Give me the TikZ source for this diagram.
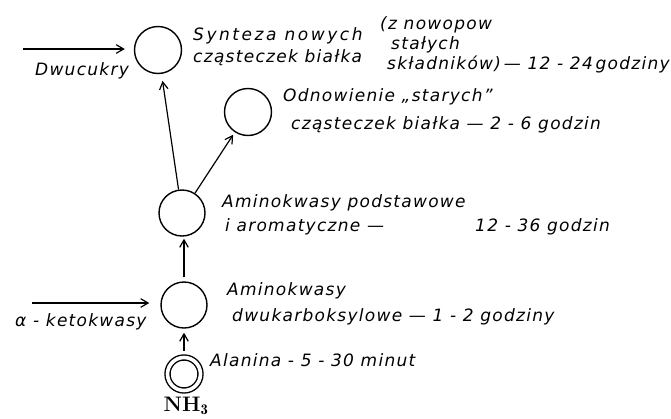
\documentclass[tikz,border=0pt]{standalone}
\usepackage{fontspec}
\newfontfamily\handfont{DejaVu Sans Oblique}[LetterSpace=7.5]
\usetikzlibrary{arrows.meta,positioning}

\begin{document}
\begin{tikzpicture}[x=1pt,y=-1pt,
  pool/.style={circle,draw=black,line width=1.4pt,minimum size=46pt,inner sep=0pt},
  alapool/.style={pool,minimum size=33pt,double,double distance=3.6pt},
  flow/.style={-{Straight Barb[length=2.6mm,width=3mm]},draw=black,line width=1.2pt},
  note/.style={font=\handfont\fontsize{17}{22}\selectfont,anchor=west,inner sep=0pt,align=left},
  chem/.style={font=\fontsize{21}{23}\selectfont\bfseries,inner sep=0pt}
]
\useasboundingbox (0,0) rectangle (671,418);
\node[pool,minimum size=47pt] (syn) at (158,50) {};
\node[pool,minimum size=47pt] (odn) at (248,112) {};
\node[pool] (pod) at (182,213) {};
\node[pool] (dwu) at (184,305) {};
\node[alapool] (ala) at (184,374) {};
\node[chem,below=6pt of ala,xshift=2pt] (nh) {NH$_{\mathbf{3}}$};
% labels
\node[note] (synL) at (193,47) {{\addfontfeature{LetterSpace=15}Synteza nowych}\\cząsteczek białka};
\node[note] (synT) at (380,45) {(z nowopow\\[-2pt]\hspace*{11pt}stałych\\[-2pt]\hspace*{7pt}składników)\,— 12 - 24\,godziny};
\node[note] (odnL) at (283,111) {Odnowienie „starych”\\[6pt]\hspace*{8pt}cząsteczek białka — 2 - 6 godzin};
\node[note] (podL) at (222,215) {Aminokwasy podstawowe\\[2pt]\hspace*{3pt}i aromatyczne —};
\node[note] (podT) at (475,227) {12 - 36 godzin};
\node[note] (dwuL) at (227,304) {Aminokwasy\\[4pt]\hspace*{5pt}dwukarboksylowe — 1 - 2 godziny};
\node[note] (alaL) at (210,360) {Alanina - 5 - 30 minut};
\node[note] (dwL) at (35,71) {Dwucukry};
\node[note] (ketL) at (15,322) {α - ketokwasy};
% inputs
\coordinate (dwIn) at (23,49);
\coordinate (ketIn) at (32,303);
\draw[flow,shorten >=9pt] (dwIn) -- (dwIn -| syn.west);
\draw[flow,shorten >=11pt] (ketIn) -- (ketIn -| dwu.west);
\draw[flow,shorten >=7pt] (pod) -- (syn);
\draw[flow,shorten >=3pt] (pod) -- (odn);
\draw[flow,shorten <=4pt,shorten >=2pt] (dwu.north) -- (dwu.north |- pod.south);
\draw[flow,shorten <=6pt,shorten >=4pt] (ala.north) -- (dwu.south);
\end{tikzpicture}
\end{document}
